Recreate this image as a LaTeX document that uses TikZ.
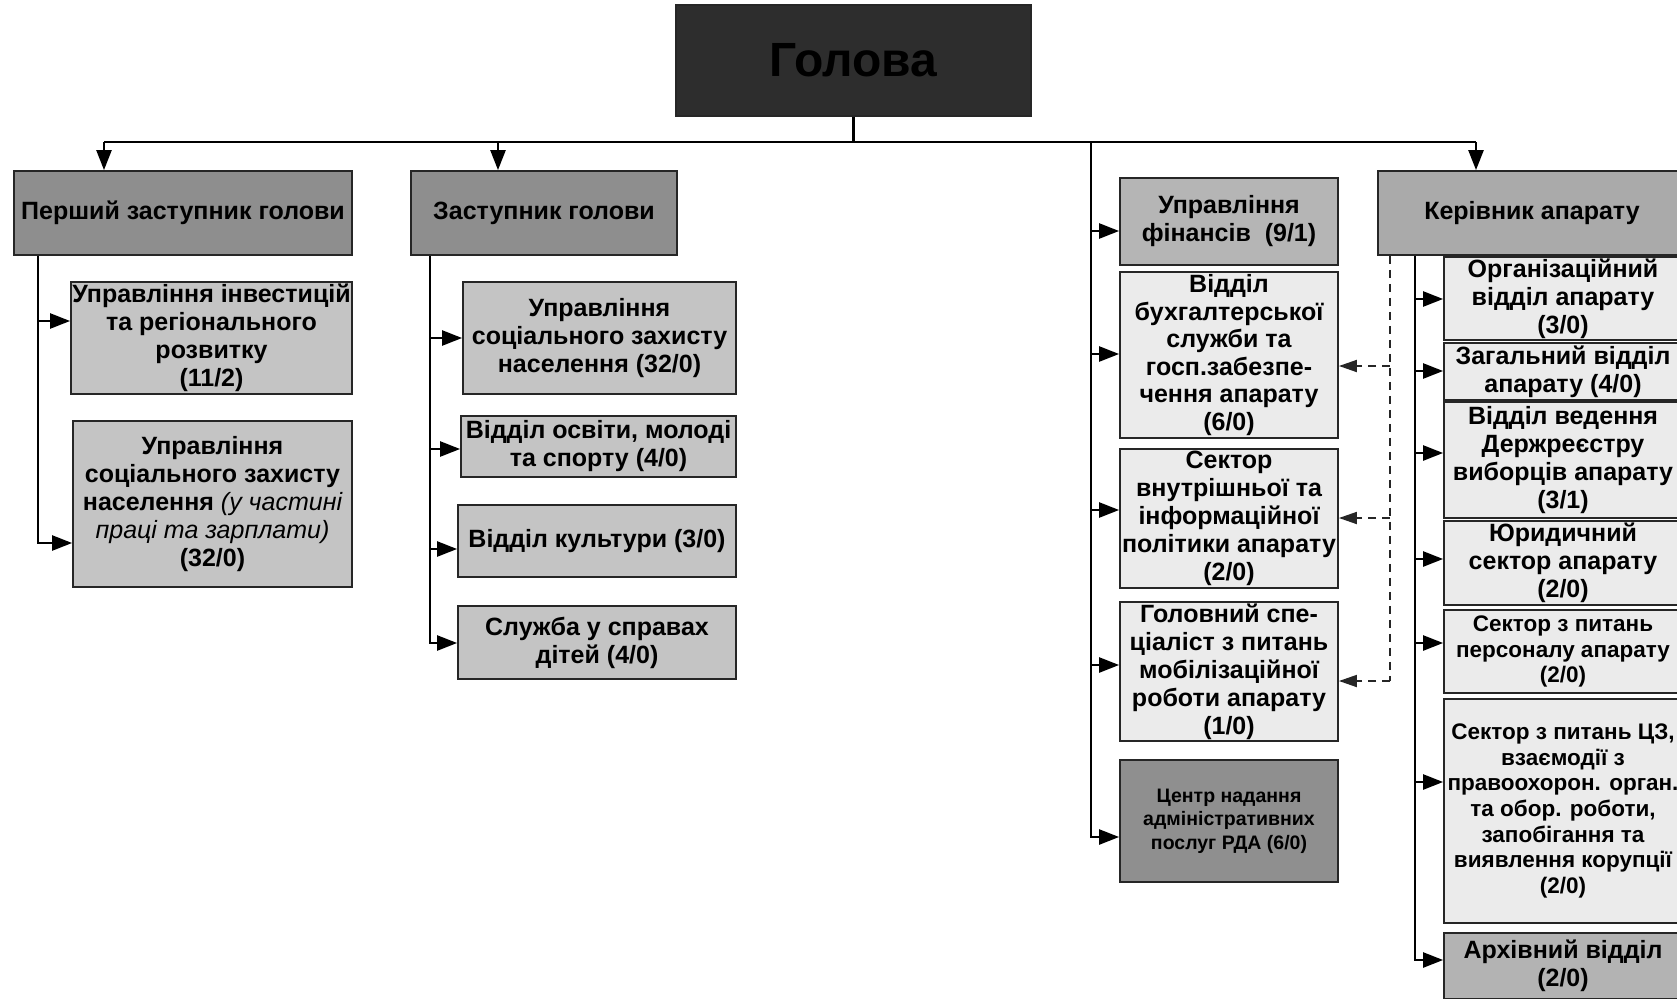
\documentclass[tikz,border=0pt]{standalone}
\usepackage{fontspec}
\setmainfont{Liberation Sans}
\usetikzlibrary{arrows.meta}
\definecolor{cgol}{HTML}{2D2D2D}
\definecolor{cdep}{HTML}{8E8E8E}
\definecolor{cker}{HTML}{AAAAAA}
\definecolor{cfin}{HTML}{B5B5B5}
\definecolor{cchild}{HTML}{C4C4C4}
\definecolor{clight}{HTML}{EBEBEB}
\definecolor{ccnap}{HTML}{8F8F8F}
\definecolor{carch}{HTML}{B3B3B3}
\begin{document}
\begin{tikzpicture}[x=1pt,y=-1pt,
  box/.style={draw=black!85,line width=1.8pt,rectangle,inner sep=0pt,align=center,font=\bfseries\fontsize{25}{28}\selectfont},
  sm/.style={font=\bfseries\fontsize{22.5}{25.7}\selectfont},
  conn/.style={line width=2.4pt,draw=black},
  arr/.style={line width=2.4pt,draw=black,-{Triangle[length=20pt,width=15pt]}},
  darr/.style={line width=1.8pt,draw=black!85,dash pattern=on 8pt off 6pt,-{Triangle[length=18pt,width=12pt]}}]
\useasboundingbox (0,0) rectangle (1677,998);
\clip (0,0) rectangle (1677,998);
\fill[white] (0,0) rectangle (1677,998);

% top
\node[box,fill=cgol,minimum width=355,minimum height=111,font=\bfseries\fontsize{48}{52}\selectfont] (gol) at (853.5,60.5) {Голова};
\node[box,fill=cdep,minimum width=338,minimum height=84] (p1) at (183,213) {Перший заступник голови};
\node[box,fill=cdep,minimum width=266,minimum height=84] (z1) at (544,213) {Заступник голови};
\node[box,fill=cker,minimum width=308,minimum height=84] (ker) at (1532,213) {Керівник апарату};

% first deputy children
\node[box,fill=cchild,minimum width=281,minimum height=112] (inv) at (211.5,338) {Управління інвестицій\\та регіонального\\розвитку\\(11/2)};
\node[box,fill=cchild,minimum width=279,minimum height=166] (soc1) at (212.5,504) {Управління\\соціального захисту\\населення {\mdseries\itshape (у частині}\\{\mdseries\itshape праці та зарплати)}\\(32/0)};

% deputy children
\node[box,fill=cchild,minimum width=273,minimum height=112] (soc2) at (599.5,338) {Управління\\соціального захисту\\населення (32/0)};
\node[box,fill=cchild,minimum width=275,minimum height=61] (osv) at (598.5,446.5) {Відділ освіти, молоді\\та спорту (4/0)};
\node[box,fill=cchild,minimum width=278,minimum height=72] (kult) at (597,541) {Відділ культури (3/0)};
\node[box,fill=cchild,minimum width=278,minimum height=73] (sluzh) at (597,642.5) {Служба у справах\\дітей (4/0)};

% middle column
\node[box,fill=cfin,minimum width=218,minimum height=87] (fin) at (1229,221.5) {Управління\\фінансів\ \ (9/1)};
\node[box,fill=clight,minimum width=218,minimum height=166,font=\bfseries\fontsize{25}{27.5}\selectfont] (buh) at (1229,355) {Відділ\\бухгалтерської\\служби та\\госп.забезпе-\\чення апарату\\(6/0)};
\node[box,fill=clight,minimum width=218,minimum height=139] (sekv) at (1229,518.5) {Сектор\\внутрішньої та\\інформаційної\\політики апарату\\(2/0)};
\node[box,fill=clight,minimum width=218,minimum height=139] (golsp) at (1229,671.5) {Головний спе-\\ціаліст з питань\\мобілізаційної\\роботи апарату\\(1/0)};
\node[box,fill=ccnap,minimum width=218,minimum height=122,font=\bfseries\fontsize{19.5}{23.5}\selectfont] (cnap) at (1229,821) {Центр надання\\адміністративних\\послуг РДА (6/0)};

% chief of staff children
\node[box,fill=clight,minimum width=238,minimum height=83] (org) at (1563,298.5) {Організаційний\\відділ апарату\\(3/0)};
\node[box,fill=clight,minimum width=238,minimum height=57] (zag) at (1563,371.5) {Загальний відділ\\апарату (4/0)};
\node[box,fill=clight,minimum width=238,minimum height=116] (derzh) at (1563,460) {Відділ ведення\\Держреєстру\\виборців апарату\\(3/1)};
\node[box,fill=clight,minimum width=238,minimum height=84] (yur) at (1563,563) {Юридичний\\сектор апарату\\(2/0)};
\node[box,fill=clight,minimum width=238,minimum height=83,sm] (pers) at (1563,651.5) {Сектор з питань\\персоналу апарату\\(2/0)};
\node[box,fill=clight,minimum width=238,minimum height=224,sm] (cz) at (1563,811) {Сектор з питань ЦЗ,\\взаємодії з\\правоохорон. орган.\\та обор. роботи,\\запобігання та\\виявлення корупції\\(2/0)};
\node[box,fill=carch,minimum width=238,minimum height=66] (arch) at (1563,966) {Архівний відділ\\(2/0)};

% bus
\coordinate (busL) at (104,142);
\coordinate (busZ) at (498,142);
\coordinate (busM) at (1091,142);
\coordinate (busR) at (1476,142);
\draw[conn] (gol.south) -- (gol.south |- busL);
\draw[conn] (busL) -- (busR);
\draw[arr] (busL) -- (busL |- p1.north);
\draw[arr] (busZ) -- (busZ |- z1.north);
\draw[arr] (busR) -- (busR |- ker.north);

% first deputy spine
\coordinate (s1a) at (38,321);
\coordinate (s1e) at (38,543);
\draw[arr] (p1.south -| s1e) -- (s1e) -- (s1e -| soc1.west);
\draw[arr] (s1a) -- (s1a -| inv.west);

% deputy spine
\coordinate (s2e) at (430,643);
\draw[arr] (z1.south -| s2e) -- (s2e) -- (s2e -| sluzh.west);
\foreach \n/\yy in {soc2/338,osv/449,kult/549}{
  \coordinate (t) at (430,\yy);
  \draw[arr] (t) -- (t -| \n.west);
}

% middle spine
\coordinate (s3e) at (1091,837);
\draw[arr] (busM) -- (s3e) -- (s3e -| cnap.west);
\foreach \n/\yy in {fin/231,buh/354,sekv/510,golsp/665}{
  \coordinate (t) at (1091,\yy);
  \draw[arr] (t) -- (t -| \n.west);
}

% chief of staff spine
\coordinate (s4e) at (1415,960);
\draw[arr] (ker.south -| s4e) -- (s4e) -- (s4e -| arch.west);
\foreach \n/\yy in {org/299,zag/371,derzh/453,yur/559,pers/643,cz/782}{
  \coordinate (t) at (1415,\yy);
  \draw[arr] (t) -- (t -| \n.west);
}

% dashed links
\coordinate (d3) at (1390,681);
\draw[line width=1.8pt,draw=black!85,dash pattern=on 8pt off 6pt] (ker.south -| d3) -- (d3);
\draw[darr] (d3) -- (d3 -| golsp.east);
\foreach \n/\yy in {buh/366,sekv/518}{
  \coordinate (t) at (1390,\yy);
  \draw[darr] (t) -- (t -| \n.east);
}
\end{tikzpicture}
\end{document}
